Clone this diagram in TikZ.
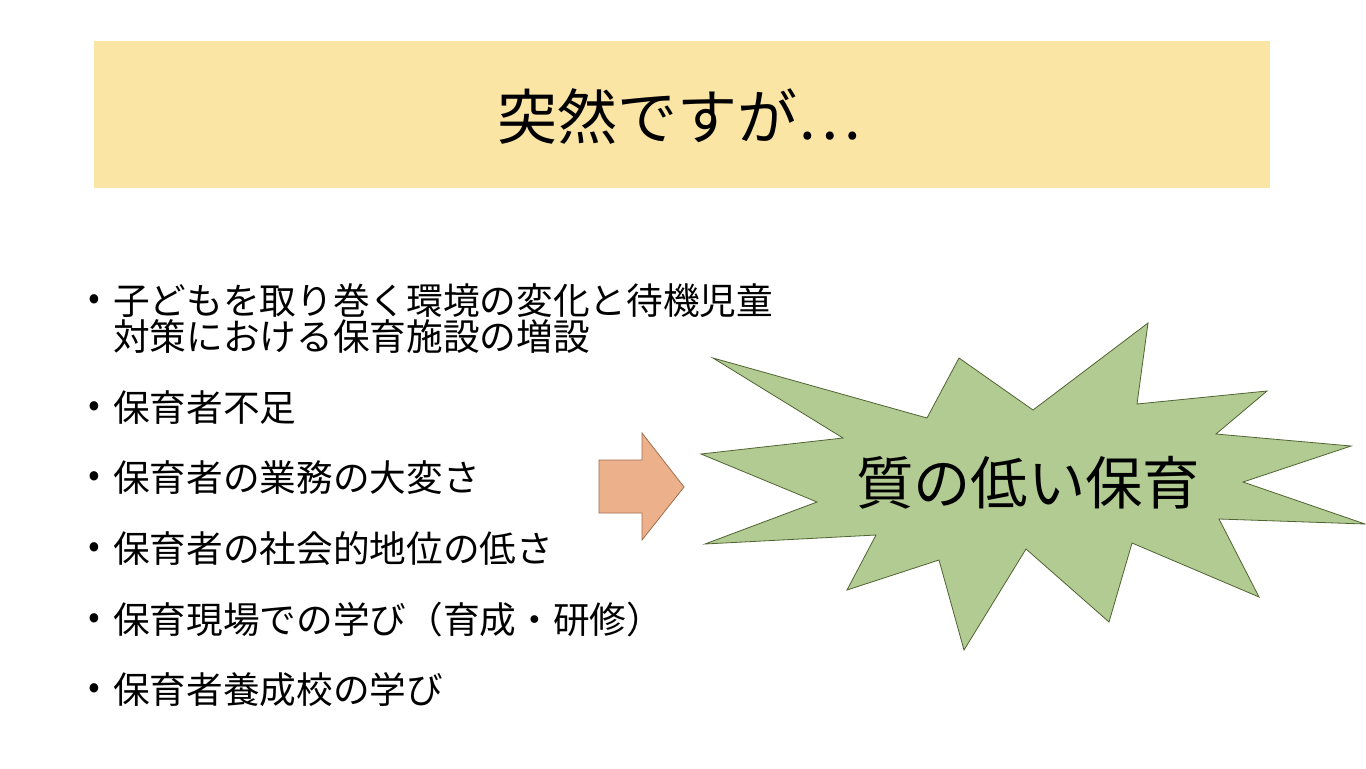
\documentclass[tikz,border=0pt]{standalone}
\usepackage{fontspec}
\setmainfont{Noto Sans CJK JP}
\begin{document}
\begin{tikzpicture}[x=0.75pt,y=-0.75pt,
  bul/.style={anchor=west,font=\fontsize{27.5}{32}\selectfont,inner sep=0pt},
  dot/.style={anchor=center,font=\fontsize{26}{30}\selectfont,inner sep=0pt}]
\useasboundingbox (0,0) rectangle (1366,768);
\fill[white] (0,0) rectangle (1366,768);
\fill[fill={rgb,255:red,251;green,229;blue,165}] (94,41) rectangle (1270,188);
\node[font=\fontsize{45}{52}\selectfont] (title) at (679,117) {突然ですが…};
\foreach \y/\t [count=\i] in {301/子どもを取り巻く環境の変化と待機児童,408/保育者不足,478/保育者の業務の大変さ,549/保育者の社会的地位の低さ,620/保育現場での学び（育成・研修）,690/保育者養成校の学び}{
  \node[dot] (d\i) at (94,\y+1) {•};
  \node[bul] (t\i) at (113,\y) {\t};
}
\node[bul] (t1b) at (113,337) {対策における保育施設の増設};
\draw[draw={rgb,255:red,160;green,110;blue,80},fill={rgb,255:red,236;green,177;blue,138},line width=0.6pt]
 (599,460)--(642,460)--(642,433)--(684,487)--(642,540)--(642,513)--(599,513)--cycle;
\draw[draw={rgb,255:red,80;green,100;blue,50},fill={rgb,255:red,178;green,203;blue,146},line width=0.6pt]
 (713,358)--(927,418)--(959,358)--(1033,410)--(1148,323)--(1137,404)--(1267,391)--(1216,434)--(1351,446)--(1243,482)--(1365,524)--(1219,519)--(1259,597)--(1132,543)--(1109,622)--(1026,549)--(964,650)--(939,560)--(847,590)--(876,535)--(705,544)--(817,502)--(701,454)--(843,438)--cycle;
\node[font=\fontsize{43}{50}\selectfont] (star) at (1028,483) {質の低い保育};
\end{tikzpicture}
\end{document}
